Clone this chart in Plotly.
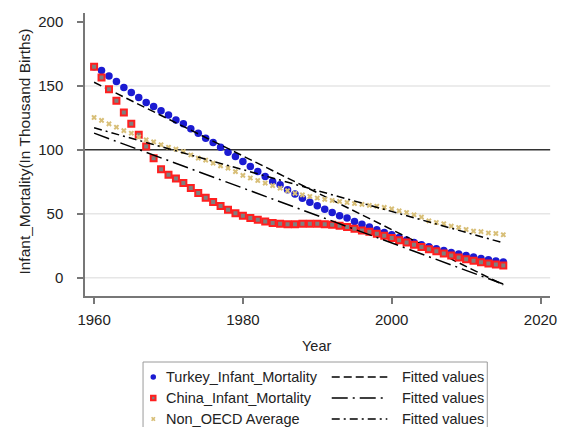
import numpy as np
import plotly.graph_objects as go

# ---- data ---------------------------------------------------------------
years = list(range(1960, 2016))

turkey = [165, 162, 157.8, 153.4, 148.7, 144.8, 140.9, 137, 133.8, 130.5,
          127.3, 123.4, 120.3, 116.4, 113, 109.1, 105.7, 102, 98.2, 94.8,
          90.9, 87, 83, 79.1, 75.2, 72.7, 68.8, 65.4, 62.2, 59.1,
          56.2, 53.6, 51, 48.4, 46.6, 44, 41.9, 39.6, 37.5, 35.4,
          33.5, 31.5, 29.5, 27.6, 25.8, 24.2, 22.6, 21.2, 19.8, 18.5,
          17.3, 16.1, 15, 14, 13, 12.2]

china = [165, 156.5, 147.4, 138.3, 129.2, 120.3, 111.7, 102.6, 93.5, 84.9,
         80.5, 77.5, 74, 70.2, 66.3, 62.6, 59.2, 56, 53.1, 50.5,
         48.4, 46.6, 45.3, 44, 42.7, 42.2, 41.9, 41.9, 42.2, 42.2,
         42.2, 41.9, 41.4, 40.6, 39.6, 38.3, 37, 35.9, 34.4, 32.8,
         31, 29.3, 27.6, 25.8, 24, 22.3, 20.6, 19, 17.4, 15.9,
         14.5, 13.2, 12.1, 11.1, 10.3, 9.6]

non_oecd = [125.3, 123, 120.3, 117.7, 115, 113, 110, 107.8, 106.2, 104,
            102, 100.5, 98.7, 96, 93.5, 92, 89.6, 87.5, 85.7, 83,
            80, 78, 76, 74, 72, 70, 68, 66, 64.8, 63.5,
            62.3, 61.3, 60.4, 59.6, 58.8, 58, 57.3, 56.6, 55.9, 55,
            53.8, 52.3, 51, 49.2, 47.4, 44.5, 43.2, 42.2, 40.3, 39.3,
            37.7, 36.4, 36, 35, 34.6, 33.6]

series_names = ["Turkey_Infant_Mortality", "China_Infant_Mortality", "Non_OECD Average"]
fit_label = "Fitted values"
x_ticks = [1960, 1980, 2000, 2020]
y_ticks = [0, 50, 100, 150, 200]
grid_values = [0, 50, 150]
ref_value = 100

# ---- styling ---------------------------------------------------------------
W, H = 564, 427
FONT = "Liberation Sans, Arial, sans-serif"
TXT = "#222222"
AXIS = "#777777"
BLUE = "#1b1bd2"
RED = "#ff1f1f"
GRAY = "#7f7f7f"
SAND = "#d8bf78"
DASH_TR = "8px,4px"
DASH_CN = "16px,5px,2px,5px"
DASH_NO = "8px,4px,2px,4px"


def linear_fit(y):
    slope, icpt = np.polyfit(years, y, 1)
    return [icpt + slope * x for x in years]


fig = go.Figure()

# scatter + fitted line for each country/group
plot_markers = [
    dict(symbol="circle", size=7.5, color=BLUE),
    dict(symbol="square", size=6, color=GRAY, line=dict(color=RED, width=2)),
    dict(symbol="x", size=5, color=SAND, line=dict(width=0)),
]
key_markers = [
    dict(symbol="circle", size=5.5, color=BLUE),
    dict(symbol="square", size=4.5, color=GRAY, line=dict(color=RED, width=2)),
    dict(symbol="x", size=4, color=SAND, line=dict(width=0)),
]
dashes = [DASH_TR, DASH_CN, DASH_NO]
all_series = [turkey, china, non_oecd]

for vals, mk, dash, name in zip(all_series, plot_markers, dashes, series_names):
    fig.add_trace(go.Scatter(x=years, y=vals, mode="markers", marker=mk,
                             name=name, showlegend=False))
    fig.add_trace(go.Scatter(x=years, y=linear_fit(vals), mode="lines",
                             line=dict(color="black", width=1.5, dash=dash),
                             name=fit_label, showlegend=False))

# horizontal gridlines and the reference line
shapes = []
for g in grid_values:
    shapes.append(dict(type="line", xref="x domain", yref="y", x0=0, x1=1, y0=g, y1=g,
                       line=dict(color="#e6e6e6", width=1.5), layer="below"))
shapes.append(dict(type="line", xref="x domain", yref="y", x0=0, x1=1,
                   y0=ref_value, y1=ref_value,
                   line=dict(color="#333333", width=1.5), layer="below"))

# ---- legend drawn on a pixel-based overlay axis ---------------------------
rows_y = [377, 398, 419]
sym_x = 150
txt_x = 161.5
line_x0, line_x1 = 333, 390
fit_txt_x = 402.5

shapes.append(dict(type="rect", xref="x2", yref="y2", x0=139.5, x1=492.5, y0=362, y1=445,
                   line=dict(color="#9a9a9a", width=1), fillcolor="rgba(0,0,0,0)"))

annotations = []
for mk, dash, name, ry in zip(key_markers, dashes, series_names, rows_y):
    fig.add_trace(go.Scatter(x=[sym_x], y=[ry], mode="markers", marker=mk,
                             xaxis="x2", yaxis="y2", showlegend=False, hoverinfo="skip"))
    fig.add_trace(go.Scatter(x=[line_x0, line_x1], y=[ry, ry], mode="lines",
                             line=dict(color="black", width=1.5, dash=dash),
                             xaxis="x2", yaxis="y2", showlegend=False, hoverinfo="skip"))
    annotations.append(dict(x=txt_x, y=ry, xref="x2", yref="y2", text=name,
                            showarrow=False, xanchor="left", yanchor="middle",
                            font=dict(size=14.5, color=TXT, family=FONT)))
    annotations.append(dict(x=fit_txt_x, y=ry, xref="x2", yref="y2", text=fit_label,
                            showarrow=False, xanchor="left", yanchor="middle",
                            font=dict(size=14.5, color=TXT, family=FONT)))

# axis titles
annotations.append(dict(x=317, y=345.5, xref="x2", yref="y2", text="Year",
                        showarrow=False, xanchor="center", yanchor="middle",
                        font=dict(size=14.5, color=TXT, family=FONT)))
annotations.append(dict(x=17, y=152, xref="x2", yref="y2",
                        text="Infant_Mortality(In Thousand Births)", textangle=-90,
                        showarrow=False, xanchor="center", yanchor="middle",
                        font=dict(size=15.5, color=TXT, family=FONT)))

fig.update_layout(
    width=W, height=H,
    margin=dict(l=0, r=0, t=0, b=0),
    paper_bgcolor="white",
    plot_bgcolor="rgba(0,0,0,0)",
    font=dict(family=FONT, color=TXT),
    showlegend=False,
    shapes=shapes,
    annotations=annotations,
    xaxis=dict(domain=[80 / W, 557 / W], range=[1958.78, 2021.3],
               tickmode="array", tickvals=x_ticks,
               ticks="outside", ticklen=6, tickwidth=1.5, tickcolor=AXIS,
               showline=True, linecolor=AXIS, linewidth=1.5,
               showgrid=False, zeroline=False, anchor="y",
               tickfont=dict(size=15, color=TXT, family=FONT), ticklabelstandoff=3),
    yaxis=dict(domain=[1 - 296 / H, 1 - 13 / H], range=[-14.3, 207],
               tickmode="array", tickvals=y_ticks,
               ticks="outside", ticklen=6, tickwidth=1.5, tickcolor=AXIS,
               showline=True, linecolor=AXIS, linewidth=1.5,
               showgrid=False, zeroline=False, anchor="x",
               tickfont=dict(size=15, color=TXT, family=FONT), ticklabelstandoff=11),
    xaxis2=dict(domain=[0, 1], range=[0, W], visible=False, anchor="y2", fixedrange=True),
    yaxis2=dict(domain=[0, 1], range=[H, 0], visible=False, anchor="x2", fixedrange=True),
)

fig.write_html("out.html")
